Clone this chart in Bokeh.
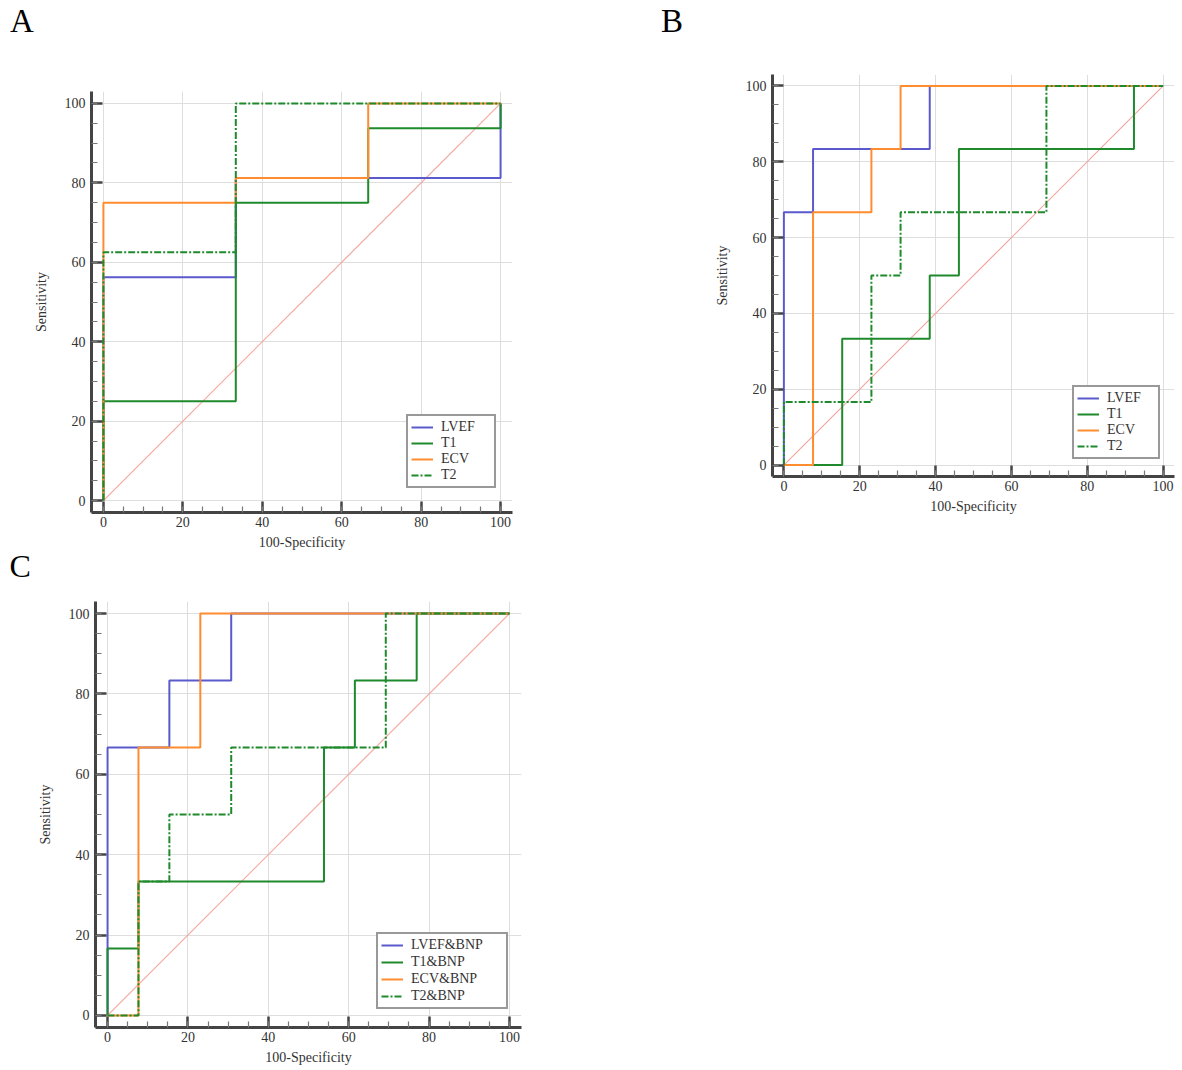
from bokeh.plotting import figure
from bokeh.models import FixedTicker, Legend, LegendItem, Range1d, Title, Div
from bokeh.layouts import column, row
from bokeh.embed import file_html
from bokeh.resources import INLINE

# ---------------- data (ROC corner points, 100-Specificity vs Sensitivity) ----------------
ticks_major = [0, 20, 40, 60, 80, 100]
ticks_minor = [0, 5, 10, 15, 20, 25, 30, 35, 40, 45, 50, 55, 60, 65, 70, 75, 80, 85, 90, 95, 100]
diag_x = [0, 100]
diag_y = [0, 100]
panel_letters = ["A", "B", "C"]

# Panel A
a_names = ["LVEF", "T1", "ECV", "T2"]
a_lvef_x = [0, 0, 33.33, 33.33, 100, 100]
a_lvef_y = [0, 56.25, 56.25, 81.25, 81.25, 100]
a_t1_x = [0, 0, 33.33, 33.33, 66.67, 66.67, 100, 100]
a_t1_y = [0, 25, 25, 75, 75, 93.75, 93.75, 100]
a_ecv_x = [0, 0, 33.33, 33.33, 66.67, 66.67, 100]
a_ecv_y = [0, 75, 75, 81.25, 81.25, 100, 100]
a_t2_x = [0, 0, 33.33, 33.33, 100]
a_t2_y = [0, 62.5, 62.5, 100, 100]

# Panel B
b_names = ["LVEF", "T1", "ECV", "T2"]
b_lvef_x = [0, 0, 7.69, 7.69, 38.46, 38.46, 100]
b_lvef_y = [0, 66.67, 66.67, 83.33, 83.33, 100, 100]
b_t1_x = [0, 15.38, 15.38, 38.46, 38.46, 46.15, 46.15, 92.31, 92.31, 100]
b_t1_y = [0, 0, 33.33, 33.33, 50, 50, 83.33, 83.33, 100, 100]
b_ecv_x = [0, 7.69, 7.69, 23.08, 23.08, 30.77, 30.77, 100]
b_ecv_y = [0, 0, 66.67, 66.67, 83.33, 83.33, 100, 100]
b_t2_x = [0, 0, 23.08, 23.08, 30.77, 30.77, 69.23, 69.23, 100]
b_t2_y = [0, 16.67, 16.67, 50, 50, 66.67, 66.67, 100, 100]

# Panel C
c_names = ["LVEF&BNP", "T1&BNP", "ECV&BNP", "T2&BNP"]
c_lvef_x = [0, 0, 15.38, 15.38, 30.77, 30.77, 100]
c_lvef_y = [0, 66.67, 66.67, 83.33, 83.33, 100, 100]
c_t1_x = [0, 0, 7.69, 7.69, 53.85, 53.85, 61.54, 61.54, 76.92, 76.92, 100]
c_t1_y = [0, 16.67, 16.67, 33.33, 33.33, 66.67, 66.67, 83.33, 83.33, 100, 100]
c_ecv_x = [0, 7.69, 7.69, 23.08, 23.08, 100]
c_ecv_y = [0, 0, 66.67, 66.67, 100, 100]
c_t2_x = [0, 7.69, 7.69, 15.38, 15.38, 30.77, 30.77, 69.23, 69.23, 100]
c_t2_y = [0, 0, 33.33, 33.33, 50, 50, 66.67, 66.67, 100, 100]

# ---------------- styling ----------------
BLUE = "#5a5acd"
GREEN = "#1f8a2c"
ORANGE = "#ff8c2e"
DIAG = "#f2a8a0"
SERIF = "Liberation Serif"
TXT = "#333333"

styles = [
    dict(color=BLUE, dash="solid"),
    dict(color=GREEN, dash="solid"),
    dict(color=ORANGE, dash="solid"),
    dict(color=GREEN, dash="7 2 2 2"),
]


def make_panel(curves, names, left, top, size, right, bottom,
               legend_xy, label_width, legend_font, spacing):
    p = figure(frame_width=size, frame_height=size,
               x_range=Range1d(-3, 103), y_range=Range1d(-3, 103),
               min_border_left=left, min_border_top=top,
               min_border_right=right, min_border_bottom=bottom,
               output_backend="svg", toolbar_location=None,
               outline_line_color=None, background_fill_color="white",
               border_fill_color="white")
    try:
        p.frame_align = False
    except Exception:
        pass

    for ax in (p.xaxis[0], p.yaxis[0]):
        ax.ticker = FixedTicker(ticks=ticks_major, minor_ticks=ticks_minor)
        ax.axis_line_color = "#444444"
        ax.axis_line_width = 3
        ax.major_tick_in = 11
        ax.major_tick_out = 0
        ax.major_tick_line_color = "#444444"
        ax.major_tick_line_width = 2.5
        ax.minor_tick_in = 6
        ax.minor_tick_out = 0
        ax.minor_tick_line_color = "#777777"
        ax.minor_tick_line_width = 1.2
        ax.major_label_text_font = SERIF
        ax.major_label_text_font_size = "14px"
        ax.major_label_text_color = TXT
        ax.axis_label_text_font = SERIF
        ax.axis_label_text_font_size = "14px"
        ax.axis_label_text_font_style = "normal"
        ax.axis_label_text_color = TXT
    p.xaxis[0].axis_label = "100-Specificity"
    p.yaxis[0].axis_label = "Sensitivity"
    p.xaxis[0].major_label_standoff = 4
    p.xaxis[0].axis_label_standoff = 5
    p.yaxis[0].major_label_standoff = 6
    p.yaxis[0].axis_label_standoff = 13

    for g in (p.xgrid[0], p.ygrid[0]):
        g.ticker = FixedTicker(ticks=ticks_major)
        g.grid_line_color = "#dedede"
        g.grid_line_width = 1

    p.segment(x0=[diag_x[0]], y0=[diag_y[0]], x1=[diag_x[1]], y1=[diag_y[1]],
              line_color=DIAG, line_width=1.2, line_alpha=1.0)

    items = []
    for (xs, ys), name, st in zip(curves, names, styles):
        r = p.line(xs, ys, line_color=st["color"], line_width=2,
                   line_dash=st["dash"])
        items.append(LegendItem(label=name, renderers=[r]))

    leg = Legend(items=items, location=legend_xy, margin=0, padding=3,
                 spacing=spacing, glyph_width=22, glyph_height=14, label_height=14,
                 label_width=label_width, label_standoff=8,
                 label_text_font=SERIF, label_text_font_size=legend_font,
                 label_text_color=TXT, border_line_color="#333333",
                 border_line_width=2.5, background_fill_color="white",
                 background_fill_alpha=1.0)
    p.add_layout(leg)
    return p


STRIP_H = 40

# strip (HTML) holding the panel letters A and B
spans = "".join(
    f'<span style="position:absolute;left:{lx}px;top:5px;">{t}</span>'
    for t, lx in zip(panel_letters[:2], [10, 661])
)
letters_html = (
    f'<div style="position:relative;width:1182px;height:{STRIP_H}px;margin:0;padding:0;'
    "font-family:'Liberation Serif',serif;font-size:33px;line-height:33px;color:#000;\">"
    + spans + "</div>"
)
strip = Div(text=letters_html, width=1182, height=STRIP_H)
try:
    strip.margin = 0
except Exception:
    pass

pA = make_panel([(a_lvef_x, a_lvef_y), (a_t1_x, a_t1_y), (a_ecv_x, a_ecv_y), (a_t2_x, a_t2_y)],
                a_names, left=91, top=91 - STRIP_H, size=421, right=20, bottom=85,
                legend_xy=(315, 24), label_width=50, legend_font="14px", spacing=0)
pB = make_panel([(b_lvef_x, b_lvef_y), (b_t1_x, b_t1_y), (b_ecv_x, b_ecv_y), (b_t2_x, b_t2_y)],
                b_names, left=240, top=74 - STRIP_H, size=402, right=8, bottom=60,
                legend_xy=(300, 17), label_width=48, legend_font="14px", spacing=0)
pC = make_panel([(c_lvef_x, c_lvef_y), (c_t1_x, c_t1_y), (c_ecv_x, c_ecv_y), (c_t2_x, c_t2_y)],
                c_names, left=95, top=4, size=426, right=20, bottom=43,
                legend_xy=(281, 18), label_width=92, legend_font="14px", spacing=1)

# letter C sits below panel A (above panel C)
tC = Title(text=panel_letters[2], text_font=SERIF, text_font_size="32px",
           text_font_style="normal", text_color="black", align="left",
           vertical_align="top", standoff=-10, offset=-82)
pA.add_layout(tC, "below")

layout = column(strip, row(pA, pB), pC)
open("out.html", "w").write(file_html(layout, INLINE))
